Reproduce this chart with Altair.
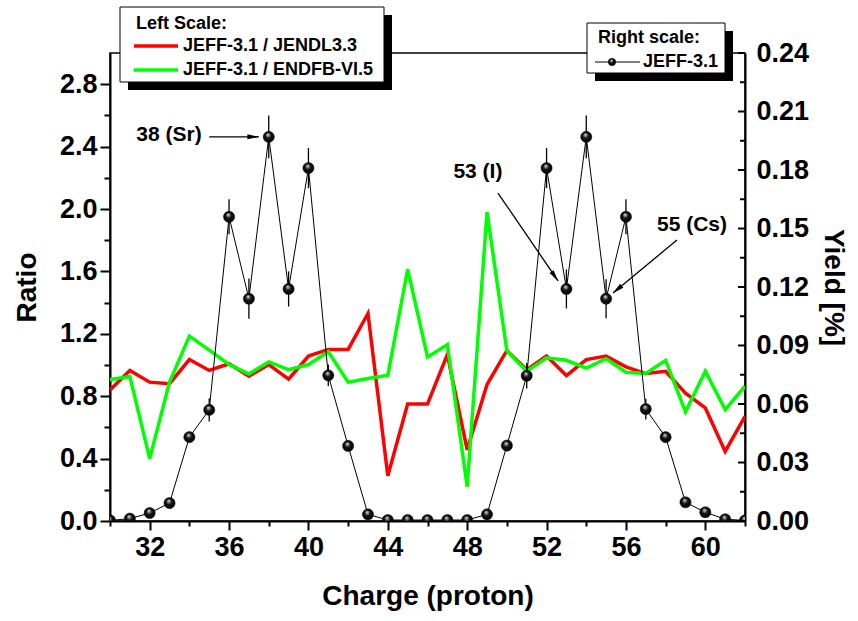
import altair as alt
import pandas as pd

# ---- data -------------------------------------------------------------
charge = list(range(30, 63))

ratio_jendl = [0.84, 0.965, 0.89, 0.88, 1.035, 0.965, 1.008, 0.928, 1.003, 0.91,
               1.057, 1.10, 1.10, 1.33, 0.29, 0.75, 0.75, 1.067, 0.456, 0.875,
               1.093, 0.97, 1.057, 0.932, 1.035, 1.057, 0.988, 0.945, 0.96, 0.82,
               0.725, 0.446, 0.67]

ratio_endfb = [0.907, 0.926, 0.40, 0.89, 1.185, 1.095, 1.003, 0.943, 1.02, 0.97,
               1.003, 1.085, 0.89, 0.913, 0.934, 1.614, 1.052, 1.13, 0.22, 1.98,
               1.09, 0.96, 1.046, 1.03, 0.98, 1.04, 0.954, 0.945, 1.03, 0.70,
               0.96, 0.714, 0.864]

yield_jeff = [0.0003, 0.0012, 0.0041, 0.0092, 0.043, 0.057, 0.156, 0.114, 0.197, 0.119,
              0.181, 0.0747, 0.0385, 0.0034, 0.0005, 0.0005, 0.0005, 0.0005, 0.0005, 0.0034,
              0.0387, 0.0745, 0.181, 0.119, 0.197, 0.114, 0.156, 0.0574, 0.043, 0.0096,
              0.0045, 0.0009, 0.0003]

yield_err = [0, 0, 0, 0, 0.002, 0.006, 0.009, 0.0103, 0.011, 0.009,
             0.0103, 0.0056, 0.002, 0, 0, 0, 0, 0, 0, 0,
             0.002, 0.0065, 0.0103, 0.010, 0.011, 0.010, 0.009, 0.0053, 0.002, 0,
             0, 0, 0]

ratio_ticks = [0.0, 0.2, 0.4, 0.6, 0.8, 1.0, 1.2, 1.4, 1.6, 1.8, 2.0, 2.2, 2.4, 2.6, 2.8]
yield_labels = [0.0, 0.03, 0.06, 0.09, 0.12, 0.15, 0.18, 0.21, 0.24]
yield_minor = [0.015, 0.045, 0.075, 0.105, 0.135, 0.165, 0.195, 0.225]
charge_ticks = list(range(30, 63, 2))

# annotation callouts: label, text anchor, arrow start, arrow tip, head centre, head angle
callouts = [
    {"label": "38 (Sr)", "tx": 32.97, "ty": 0.198, "Z": 35.0, "yield": 0.197,
     "Z2": 37.5, "yield2": 0.197, "hx": 37.22, "hy": 0.197, "angle": 90},
    {"label": "53 (I)", "tx": 48.54, "ty": 0.179, "Z": 49.55, "yield": 0.1682,
     "Z2": 52.58, "yield2": 0.1231, "hx": 52.42, "hy": 0.1254, "angle": 145.7},
    {"label": "55 (Cs)", "tx": 59.33, "ty": 0.1518, "Z": 58.57, "yield": 0.1441,
     "Z2": 55.35, "yield2": 0.1169, "hx": 55.56, "hy": 0.1187, "angle": 230.4},
]

# ---- styling ----------------------------------------------------------
FONT = "Liberation Sans"
W, H = 635, 468
RED, GREEN = "#ff0000", "#00ff00"

# glossy black sphere for the yield markers
sphere = alt.Gradient(
    gradient="radial",
    stops=[alt.GradientStop(color="#ffffff", offset=0.0),
           alt.GradientStop(color="#9a9a9a", offset=0.14),
           alt.GradientStop(color="#111111", offset=0.42),
           alt.GradientStop(color="#000000", offset=1.0)],
    x1=0.42, y1=0.3, r1=0.0, x2=0.5, y2=0.5, r2=0.62,
)

jendl_df = pd.DataFrame({"Z": charge, "ratio": ratio_jendl})
endfb_df = pd.DataFrame({"Z": charge, "ratio": ratio_endfb})
yield_df = pd.DataFrame({"Z": charge, "yield": yield_jeff, "err": yield_err})
call_df = pd.DataFrame(callouts)
one = pd.DataFrame({"k": [0]})

x_scale = alt.Scale(domain=[30, 62], nice=False, zero=False)
x_axis = alt.Axis(
    title="Charge (proton)", values=charge_ticks,
    labelExpr="datum.value % 4 == 0 ? datum.value : ''",
    tickSize={"condition": {"test": "datum.value % 4 == 0", "value": 9}, "value": 5},
    labelPadding=4, titlePadding=22,
)
x_enc = alt.X("Z:Q", scale=x_scale, axis=x_axis)

y_ratio = alt.Y(
    "ratio:Q",
    scale=alt.Scale(domain=[0, 3.0], nice=False),
    axis=alt.Axis(
        title="Ratio", values=ratio_ticks,
        labelExpr="round(datum.value * 10) % 4 == 0 ? format(datum.value, '.1f') : ''",
        tickSize={"condition": {"test": "round(datum.value * 10) % 4 == 0", "value": 10},
                  "value": 6},
        labelPadding=3, titlePadding=18,
    ),
)

y_scale = alt.Scale(domain=[0, 0.24], nice=False)
y_yield_axis = alt.Axis(
    title="Yield [%]", orient="right", values=yield_labels, format=".2f",
    ticks=False, labelPadding=11, titlePadding=10,
)
y_yield = alt.Y("yield:Q", scale=y_scale, axis=y_yield_axis)

# ---- ratio curves (left scale) ----------------------------------------
red_line = alt.Chart(jendl_df).mark_line(color=RED, strokeWidth=3.5, clip=True).encode(
    x=x_enc, y=y_ratio)
green_line = alt.Chart(endfb_df).mark_line(color=GREEN, strokeWidth=3.5, clip=True).encode(
    x=x_enc, y=y_ratio)
ratio_layer = alt.layer(red_line, green_line)

# ---- yield curve (right scale) ----------------------------------------
yield_line = alt.Chart(yield_df).mark_line(color="black", strokeWidth=1, clip=True).encode(
    x=x_enc, y=y_yield)

err_bars = alt.Chart(yield_df).transform_filter("datum.err > 0").transform_calculate(
    lo="datum.yield - datum.err", hi="datum.yield + datum.err"
).mark_rule(color="black", strokeWidth=1.3).encode(
    x=x_enc, y=alt.Y("lo:Q", scale=y_scale, axis=y_yield_axis), y2="hi:Q")

yield_pts = alt.Chart(yield_df).mark_point(
    shape="circle", filled=True, fill=sphere, stroke="#000000", strokeWidth=0.5,
    size=125, opacity=1, clip=True
).encode(x=x_enc, y=y_yield)

tick_major = alt.Chart(pd.DataFrame({"yield": yield_labels})).mark_rule(
    color="black", strokeWidth=2).encode(
    y=y_yield, x=alt.value(W - 7), x2=alt.value(W))
tick_minor = alt.Chart(pd.DataFrame({"yield": yield_minor})).mark_rule(
    color="black", strokeWidth=2).encode(
    y=y_yield, x=alt.value(W - 5), x2=alt.value(W))

arrow_lines = alt.Chart(call_df).mark_rule(color="black", strokeWidth=1.3).encode(
    x=x_enc, y=y_yield, x2="Z2:Q", y2="yield2:Q")
arrow_heads = alt.Chart(call_df).mark_point(
    shape="M0,-1L0.42,1L-0.42,1Z", filled=True, color="black", size=140, opacity=1
).encode(
    x=alt.X("hx:Q", scale=x_scale, axis=x_axis),
    y=alt.Y("hy:Q", scale=y_scale, axis=y_yield_axis),
    angle=alt.Angle("angle:Q", scale=None))
arrow_text = alt.Chart(call_df).mark_text(
    font=FONT, fontSize=21, fontWeight="bold", color="black", align="center", baseline="middle"
).encode(
    x=alt.X("tx:Q", scale=x_scale, axis=x_axis),
    y=alt.Y("ty:Q", scale=y_scale, axis=y_yield_axis),
    text="label:N")

# ---- legend boxes (pixel layout relative to the plot area) ------------
def box(x0, y0, x1, y1, fill, stroke=None):
    kw = dict(fill=fill)
    if stroke:
        kw.update(stroke=stroke, strokeWidth=1)
    return alt.Chart(one).mark_rect(**kw).encode(
        x=alt.value(x0), x2=alt.value(x1), y=alt.value(y0), y2=alt.value(y1))

def label(x, y, txt, size=18):
    return alt.Chart(one).mark_text(
        text=txt, font=FONT, fontSize=size, fontWeight="bold", color="black",
        align="left", baseline="middle").encode(x=alt.value(x), y=alt.value(y))

def seg(x0, x1, y, color, width):
    return alt.Chart(one).mark_rule(color=color, strokeWidth=width).encode(
        x=alt.value(x0), x2=alt.value(x1), y=alt.value(y))

left_legend = [
    box(18, -38, 282, 37, "black"),
    box(10, -46, 274, 29, "white", "black"),
    label(26, -29, "Left Scale:"),
    seg(24, 68, -7, RED, 3.5),
    label(73, -7, "JEFF-3.1 / JENDL3.3"),
    seg(24, 68, 17, GREEN, 3.5),
    label(73, 17, "JEFF-3.1 / ENDFB-VI.5"),
]
right_legend = [
    box(485, -22, 623, 28, "black"),
    box(477, -30, 615, 20, "white", "black"),
    label(488, -15, "Right scale:"),
    seg(485, 530, 9, "black", 1),
    alt.Chart(one).mark_point(shape="circle", filled=True, fill=sphere, stroke="#000000",
                              strokeWidth=0.5, size=55, opacity=1).encode(
        x=alt.value(502), y=alt.value(9)),
    label(533, 9, "JEFF-3.1"),
]

yield_layer = alt.layer(
    yield_line, err_bars, yield_pts, tick_major, tick_minor,
    arrow_lines, arrow_heads, arrow_text, *left_legend, *right_legend,
)

chart = alt.layer(ratio_layer, yield_layer).resolve_scale(y="independent").properties(
    width=W, height=H,
    autosize=alt.AutoSizeParams(type="none"),
    padding={"left": 110, "top": 53, "right": 113, "bottom": 100},
).configure_view(
    stroke="black", strokeWidth=1.5,
).configure_axis(
    domainColor="black", domainWidth=2, tickColor="black", tickWidth=2, grid=False,
    labelFont=FONT, labelFontSize=27, labelFontWeight="bold", labelColor="black",
    titleFont=FONT, titleFontSize=28, titleFontWeight="bold", titleColor="black",
    labelFlush=False, labelOverlap=False,
)

chart.save("out.html", embed_options={"renderer": "svg", "actions": False})
